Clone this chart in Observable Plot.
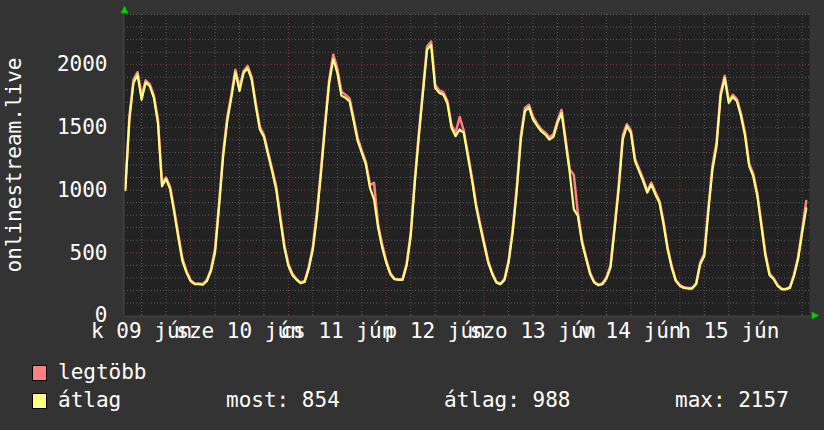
<!DOCTYPE html>
<html><head><meta charset="utf-8">
<script src="https://cdn.jsdelivr.net/npm/d3@7"></script>
<script src="https://cdn.jsdelivr.net/npm/@observablehq/plot@0.6"></script>
<style>
html,body{margin:0;padding:0;background:#333;}
#chart{position:relative;width:824px;height:430px;background:#333;font-family:"DejaVu Sans Mono",monospace;overflow:hidden;}
#chart svg{display:block;}
</style></head><body><div id="chart"></div>
<script>
// hours counted from 2020-06-09 00:00
const startHour = 8;
const windowHours = [7.8, 175.8];

// átlag (average), one value per hour from startHour
const avgValues = [
  1000,1562,1854,1920,1720,1860,1828,1735,1535,1030,1090,1005,820,620,435,342,275,250,250,245,275,355,500,870,
  1270,1550,1735,1940,1790,1934,1973,1880,1668,1483,1424,1284,1150,1005,766,541,395,321,284,257,268,374,528,793,
  1138,1509,1854,2045,1934,1753,1735,1708,1550,1390,1297,1204,1018,926,700,541,421,329,289,284,284,400,634,1058,
  1430,1775,2119,2157,1814,1775,1761,1690,1496,1430,1483,1456,1270,1085,873,713,567,421,329,262,249,284,421,660,
  992,1403,1629,1660,1562,1513,1469,1443,1403,1424,1536,1615,1377,1138,846,793,580,453,329,262,241,249,294,382,
  687,1005,1403,1509,1456,1231,1151,1072,979,1045,965,899,727,527,382,276,236,220,215,215,249,408,474,833,
  1164,1350,1748,1894,1695,1743,1708,1589,1430,1191,1111,952,713,474,321,289,236,209,209,220,315,448,660,854
];
// legtöbb (maximum), one value per hour from startHour
const maxValues = [
  1015,1590,1880,1940,1750,1875,1845,1755,1565,1055,1100,1025,845,645,455,355,282,256,255,251,283,368,530,900,
  1300,1580,1760,1960,1820,1950,1990,1900,1695,1505,1440,1305,1170,1030,795,565,410,332,290,263,276,388,552,830,
  1170,1540,1880,2080,1970,1785,1760,1730,1575,1415,1315,1225,1040,1058,725,565,435,338,294,290,290,415,660,1085,
  1460,1805,2145,2185,1840,1795,1780,1710,1520,1455,1583,1475,1295,1105,895,735,585,436,338,268,255,292,440,685,
  1020,1435,1655,1680,1585,1530,1485,1458,1420,1445,1555,1640,1405,1165,1120,815,600,466,340,268,247,256,305,400,
  715,1035,1435,1525,1475,1250,1170,1090,995,1060,985,915,750,545,395,283,242,225,219,219,256,422,495,865,
  1195,1380,1775,1912,1715,1760,1725,1610,1455,1210,1130,975,735,495,335,296,242,213,212,226,328,466,685,913
];

const dayLabels = ["k 09 jún", "sze 10 jún", "cs 11 jún", "p 12 jún", "szo 13 jún", "v 14 jún", "h 15 jún"];
const dayLabelHours = [12, 36, 60, 84, 108, 132, 156];
const yTicks = [0, 500, 1000, 1500, 2000];
const yMax = 2400;
const yTitle = "onlinestream.live";
const seriesNames = ["legtöbb", "átlag"];
const seriesColors = ["#ff8080", "#ffff80"];
const statNow = 854, statAvg = 988, statMax = 2157;

const rows = avgValues.map((v, i) => ({h: startHour + i, avg: v, max: maxValues[i]}));
const minorY = d3.range(100, yMax + 1, 100).filter(v => v % 500 !== 0);
const majorY = yTicks.filter(v => v > 0);
const minorX = d3.range(0, windowHours[1], 6).filter(h => h % 24 !== 0 && h > windowHours[0]);
const majorX = d3.range(24, windowHours[1], 24);

const FONT = "DejaVu Sans Mono";
const rightTri = {draw(ctx, size) { const r = Math.sqrt(size) * 0.75; ctx.moveTo(r, 0); ctx.lineTo(-r * 0.6, -r * 0.8); ctx.lineTo(-r * 0.6, r * 0.8); ctx.closePath(); }};
const upTri = {draw(ctx, size) { const r = Math.sqrt(size) * 0.75; ctx.moveTo(0, -r); ctx.lineTo(-r * 0.8, r * 0.6); ctx.lineTo(r * 0.8, r * 0.6); ctx.closePath(); }};

const plot = Plot.plot({
  width: 824, height: 345,
  marginLeft: 124, marginRight: 15, marginTop: 14, marginBottom: 30,
  style: {background: "transparent", fontFamily: FONT, fontSize: "21px", color: "#fff", overflow: "visible"},
  x: {type: "linear", domain: windowHours, axis: null},
  y: {type: "linear", domain: [0, yMax], axis: null},
  marks: [
    Plot.frame({fill: "#222", stroke: null}),
    Plot.ruleY(minorY, {stroke: "#555", strokeDasharray: "1,2"}),
    Plot.ruleX(minorX, {stroke: "#555", strokeDasharray: "1,2"}),
    Plot.ruleY(majorY, {stroke: "#7a3636", strokeDasharray: "1,2"}),
    Plot.ruleX(majorX, {stroke: "#7a3636", strokeDasharray: "1,2"}),
    Plot.ruleX(majorX, {y1: -22, y2: 0, stroke: "#7a3636"}),
    Plot.ruleX(minorX, {y1: -14, y2: 0, stroke: "#555"}),
    Plot.line(rows, {x: "h", y: "max", stroke: seriesColors[0], strokeWidth: 2.5}),
    Plot.line(rows, {x: "h", y: "avg", stroke: seriesColors[1], strokeWidth: 2.2}),
    Plot.ruleX([windowHours[0]], {y1: 0, y2: yMax + 30, stroke: "#3d3d3d", strokeWidth: 2, dx: -1}),
    Plot.ruleY([0], {x1: windowHours[0], x2: windowHours[1] + 0.5, stroke: "#3d3d3d", strokeWidth: 2, dy: 1}),
    Plot.dot([0], {x: windowHours[0], y: yMax, dy: -4, symbol: upTri, r: 3.5, fill: "#00d000", stroke: null}),
    Plot.dot([0], {x: windowHours[1], y: 0, dx: 5, symbol: rightTri, r: 3.5, fill: "#00d000", stroke: null}),
    Plot.text(yTicks, {x: windowHours[0], y: d => d, text: d => String(d), textAnchor: "end", dx: -17, fill: "#fff", fontSize: 21, fontFamily: FONT}),
    Plot.text(dayLabels, {x: (d, i) => dayLabelHours[i], y: 0, text: d => d, dy: 16, textAnchor: "middle", lineAnchor: "middle", fill: "#fff", fontSize: 21, fontFamily: FONT}),
    Plot.text([yTitle], {frameAnchor: "left", dx: -110, rotate: -90, text: d => d, textAnchor: "middle", lineAnchor: "middle", fill: "#fff", fontSize: 21, fontFamily: FONT})
  ]
});
document.getElementById("chart").appendChild(plot);

// legend below the plot
const ns = "http://www.w3.org/2000/svg";
const leg = document.createElementNS(ns, "svg");
leg.setAttribute("width", 824); leg.setAttribute("height", 85);
const legRows = [
  {name: seriesNames[0], color: seriesColors[0], y: 20},
  {name: seriesNames[1], color: seriesColors[1], y: 48}
];
function addText(txt, x, y) {
  const t = document.createElementNS(ns, "text");
  t.setAttribute("x", x); t.setAttribute("y", y);
  t.setAttribute("fill", "#fff"); t.setAttribute("font-family", FONT); t.setAttribute("font-size", "21");
  t.textContent = txt; leg.appendChild(t);
}
legRows.forEach(r => {
  const b = document.createElementNS(ns, "rect");
  b.setAttribute("x", 32.5); b.setAttribute("y", r.y + 0.5); b.setAttribute("width", 14); b.setAttribute("height", 15);
  b.setAttribute("fill", r.color); b.setAttribute("stroke", "#000"); b.setAttribute("stroke-width", 1);
  leg.appendChild(b);
  addText(r.name, 58, r.y + 14);
});
addText("most: " + statNow, 226, 62);
addText("átlag: " + statAvg, 444, 62);
addText("max: " + statMax, 675, 62);
document.getElementById("chart").appendChild(leg);
</script></body></html>
